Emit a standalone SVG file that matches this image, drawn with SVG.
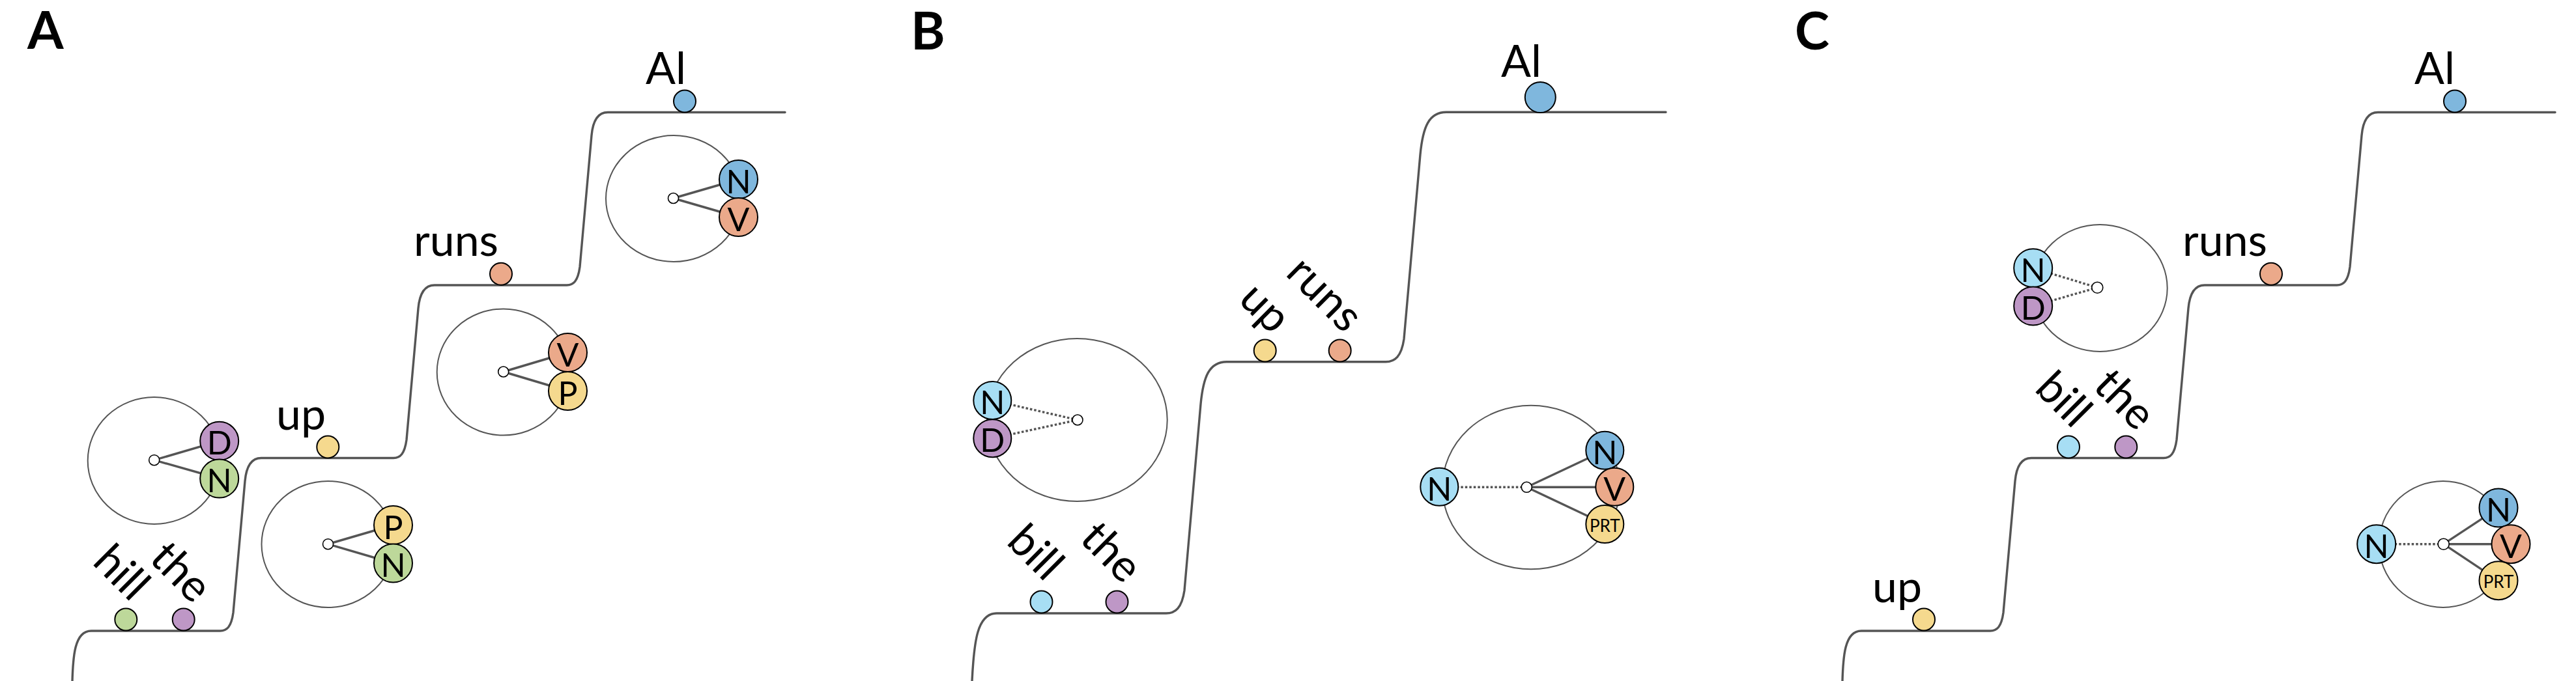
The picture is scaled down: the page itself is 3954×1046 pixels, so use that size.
<svg xmlns="http://www.w3.org/2000/svg" width="3954" height="1046" viewBox="0 0 3954 1046">
<style>
.bg{fill:#fff}
.stair{fill:none;stroke:#555;stroke-width:3.4;stroke-linecap:round;stroke-linejoin:round}
.ring{fill:none;stroke:#555;stroke-width:2}
.hub{fill:#fff;stroke:#000;stroke-width:1.6}
.sol{stroke:#555;stroke-width:3.4;stroke-linecap:round}
.dot{stroke:#555;stroke-width:3.4;stroke-dasharray:3.5 3}
.nd{stroke:#000;stroke-width:2}
.g{fill:#BDD89A}.pu{fill:#BE97C6}.y{fill:#F5D98E}.o{fill:#EBA98A}.b{fill:#7FB7DD}.lb{fill:#A7DEF4}
.w{font-family:Lato,'Open Sans',sans-serif;font-size:68px;fill:#000}
.L{font-family:Lato,'Open Sans',sans-serif;font-size:50px;fill:#000;text-anchor:middle}
.s{font-family:Lato,'Open Sans',sans-serif;font-size:26px;fill:#000;text-anchor:middle}
.pl{font-family:Lato,'Open Sans',sans-serif;font-size:80px;font-weight:bold;fill:#000}
</style>
<rect class="bg" x="0" y="0" width="3954" height="1046"/>

<!-- panel letters -->
<text class="pl" x="42" y="75">A</text>
<text class="pl" x="1398" y="76">B</text>
<text class="pl" x="2755" y="76">C</text>

<!-- staircases -->
<g id="stairs">
<path id="stairA" class="stair" d="M 111,1046 C 112,1010 114,969 140,969 H 338 C 348,969 355,963 358,941 L 376,739 C 378,717 386,703.5 401,703.5 H 604 C 614,703.5 621,697.5 624,675.5 L 642,473.5 C 644,451.5 652,438 667,438 H 870 C 880,438 887,432 890,410 L 908,208 C 910,186 918,172.5 933,172.5 H 1205"/>
<path id="stairB" class="stair" d="M 1492,1046 C 1495,985 1500,942 1530,942 H 1790 C 1804,942 1814,934 1818,907 L 1843,620.7 C 1847,578.7 1856,555.7 1883,555.7 H 2127 C 2141,555.7 2151,547.7 2155,520.7 L 2180,237.3 C 2184,195.3 2193,172.3 2220,172.3 H 2557"/>
<path id="stairC" class="stair" transform="translate(2717,0)" d="M 111,1046 C 112,1010 114,969 140,969 H 338 C 348,969 355,963 358,941 L 376,739 C 378,717 386,703.5 401,703.5 H 604 C 614,703.5 621,697.5 624,675.5 L 642,473.5 C 644,451.5 652,438 667,438 H 870 C 880,438 887,432 890,410 L 908,208 C 910,186 918,172.5 933,172.5 H 1205"/>
</g>

<!-- rings -->
<g id="rings">
<ellipse class="ring" cx="236.7" cy="707.5" rx="102" ry="97.5"/>
<ellipse class="ring" cx="503.5" cy="836" rx="102" ry="97"/>
<ellipse class="ring" cx="772.7" cy="571.5" rx="102" ry="97"/>
<ellipse class="ring" cx="1034" cy="305" rx="104" ry="97"/>
<ellipse class="ring" cx="1653.3" cy="645" rx="138.4" ry="125"/>
<ellipse class="ring" cx="2350" cy="748.5" rx="136" ry="125.8"/>
<ellipse class="ring" cx="3223.3" cy="442.5" rx="103.4" ry="97.5"/>
<ellipse class="ring" cx="3750" cy="836" rx="98.3" ry="97"/>
</g>

<!-- connectors -->
<g id="connectors">
<line class="sol" x1="236.7" y1="706.7" x2="336.7" y2="677.3"/>
<line class="sol" x1="236.7" y1="706.7" x2="336.7" y2="735"/>
<line class="sol" x1="503.5" y1="835.7" x2="603.5" y2="806.5"/>
<line class="sol" x1="503.5" y1="835.7" x2="603.5" y2="865"/>
<line class="sol" x1="772.7" y1="571" x2="871.5" y2="541.5"/>
<line class="sol" x1="772.7" y1="571" x2="871.5" y2="600.5"/>
<line class="sol" x1="1033.5" y1="304.5" x2="1133.5" y2="275.5"/>
<line class="sol" x1="1033.5" y1="304.5" x2="1133.5" y2="333.5"/>
<line class="dot" x1="1654" y1="645" x2="1523.3" y2="615"/>
<line class="dot" x1="1654" y1="645" x2="1523.3" y2="673.3"/>
<line class="dot" x1="2343.3" y1="748.3" x2="2209.3" y2="748.3"/>
<line class="sol" x1="2343.3" y1="748.3" x2="2463.3" y2="691.7"/>
<line class="sol" x1="2343.3" y1="748.3" x2="2478.3" y2="748.3"/>
<line class="sol" x1="2343.3" y1="748.3" x2="2463.3" y2="805"/>
<line class="dot" x1="3219.3" y1="441.7" x2="3120.7" y2="411.7"/>
<line class="dot" x1="3219.3" y1="441.7" x2="3120.7" y2="470"/>
<line class="dot" x1="3750.7" y1="835.7" x2="3647.7" y2="835.7"/>
<line class="sol" x1="3750.7" y1="835.7" x2="3835" y2="780"/>
<line class="sol" x1="3750.7" y1="835.7" x2="3854" y2="835.7"/>
<line class="sol" x1="3750.7" y1="835.7" x2="3835" y2="891.7"/>
</g>

<!-- hubs -->
<g id="hubs">
<circle class="hub" cx="236.7" cy="706.7" r="8"/>
<circle class="hub" cx="503.5" cy="835.7" r="8"/>
<circle class="hub" cx="772.7" cy="571" r="8"/>
<circle class="hub" cx="1033.5" cy="304.5" r="8"/>
<circle class="hub" cx="1654" cy="645" r="8"/>
<circle class="hub" cx="2343.3" cy="748.3" r="8"/>
<circle class="hub" cx="3219.3" cy="441.7" r="8.5"/>
<circle class="hub" cx="3750.7" cy="835.7" r="8.5"/>
</g>

<!-- category nodes -->
<g id="nodeA1D"><circle class="nd pu" cx="336.7" cy="677.3" r="29.5"/><text class="L" x="336.7" y="698.3">D</text></g>
<g id="nodeA1N"><circle class="nd g" cx="336.7" cy="735" r="29.5"/><text class="L" x="336.7" y="756">N</text></g>
<g id="nodeA2P"><circle class="nd y" cx="603.5" cy="806.5" r="29.5"/><text class="L" x="603.5" y="827.5">P</text></g>
<g id="nodeA2N"><circle class="nd g" cx="603.5" cy="865" r="29.5"/><text class="L" x="603.5" y="886">N</text></g>
<g id="nodeA3V"><circle class="nd o" cx="871.5" cy="541.5" r="29.5"/><text class="L" x="871.5" y="562.5">V</text></g>
<g id="nodeA3P"><circle class="nd y" cx="871.5" cy="600.5" r="29.5"/><text class="L" x="871.5" y="621.5">P</text></g>
<g id="nodeA4N"><circle class="nd b" cx="1133.5" cy="275.5" r="29.5"/><text class="L" x="1133.5" y="296.5">N</text></g>
<g id="nodeA4V"><circle class="nd o" cx="1133.5" cy="333.5" r="29.5"/><text class="L" x="1133.5" y="354.5">V</text></g>

<g id="nodeB1N"><circle class="nd lb" cx="1523.3" cy="615" r="29"/><text class="L" x="1523.3" y="636">N</text></g>
<g id="nodeB1D"><circle class="nd pu" cx="1523.3" cy="673.3" r="29"/><text class="L" x="1523.3" y="694.3">D</text></g>
<g id="nodeB2Nl"><circle class="nd lb" cx="2209.3" cy="747.7" r="29"/><text class="L" x="2209.3" y="768.7">N</text></g>
<g id="nodeB2N"><circle class="nd b" cx="2463.3" cy="691.7" r="29"/><text class="L" x="2463.3" y="712.7">N</text></g>
<g id="nodeB2V"><circle class="nd o" cx="2478.3" cy="747.7" r="29"/><text class="L" x="2478.3" y="768.7">V</text></g>
<g id="nodeB2PRT"><circle class="nd y" cx="2463.3" cy="805" r="29"/><text class="s" x="2463.3" y="816.7">PRT</text></g>

<g id="nodeC1N"><circle class="nd lb" cx="3120.7" cy="411.7" r="29.5"/><text class="L" x="3120.7" y="432.7">N</text></g>
<g id="nodeC1D"><circle class="nd pu" cx="3120.7" cy="470" r="29.5"/><text class="L" x="3120.7" y="491">D</text></g>
<g id="nodeC2Nl"><circle class="nd lb" cx="3647.7" cy="835.7" r="29.5"/><text class="L" x="3647.7" y="856.7">N</text></g>
<g id="nodeC2N"><circle class="nd b" cx="3835" cy="780" r="29.5"/><text class="L" x="3835" y="801">N</text></g>
<g id="nodeC2V"><circle class="nd o" cx="3854" cy="835.7" r="29.5"/><text class="L" x="3854" y="856.7">V</text></g>
<g id="nodeC2PRT"><circle class="nd y" cx="3835" cy="891.7" r="29.5"/><text class="s" x="3835" y="903.4">PRT</text></g>

<!-- word tokens on stairs -->
<g id="wordA-hill"><circle class="nd g" cx="193.3" cy="951.5" r="17"/><text class="w" transform="translate(140,865) rotate(45)">hill</text></g>
<g id="wordA-the"><circle class="nd pu" cx="281.7" cy="951.5" r="17"/><text class="w" transform="translate(227,860) rotate(45)">the</text></g>
<g id="wordA-up"><circle class="nd y" cx="503.3" cy="686.5" r="17"/><text class="w" x="424" y="660">up</text></g>
<g id="wordA-runs"><circle class="nd o" cx="769" cy="420.7" r="17"/><text class="w" x="635" y="393.3">runs</text></g>
<g id="wordA-Al"><circle class="nd b" cx="1051" cy="155.5" r="17"/><text class="w" x="991" y="129.3">Al</text></g>

<g id="wordB-bill"><circle class="nd lb" cx="1598.5" cy="924.5" r="17"/><text class="w" transform="translate(1543,834) rotate(45)">bill</text></g>
<g id="wordB-the"><circle class="nd pu" cx="1714.5" cy="924.5" r="17"/><text class="w" transform="translate(1655,829.5) rotate(45)">the</text></g>
<g id="wordB-up"><circle class="nd y" cx="1941.7" cy="538.5" r="17"/><text class="w" transform="translate(1899,462) rotate(45)">up</text></g>
<g id="wordB-runs"><circle class="nd o" cx="2056.7" cy="538.5" r="17"/><text class="w" transform="translate(1971.5,421.5) rotate(45)">runs</text></g>
<g id="wordB-Al"><circle class="nd b" cx="2364.3" cy="149.5" r="23.5"/><text class="w" x="2304" y="118.3">Al</text></g>

<g id="wordC-up"><circle class="nd y" cx="2953" cy="951.5" r="17"/><text class="w" x="2874" y="925">up</text></g>
<g id="wordC-bill"><circle class="nd lb" cx="3175" cy="686.5" r="17"/><text class="w" transform="translate(3121,599) rotate(45)">bill</text></g>
<g id="wordC-the"><circle class="nd pu" cx="3263.3" cy="686.5" r="17"/><text class="w" transform="translate(3210.5,595) rotate(45)">the</text></g>
<g id="wordC-runs"><circle class="nd o" cx="3486" cy="420.7" r="17"/><text class="w" x="3350" y="393.3">runs</text></g>
<g id="wordC-Al"><circle class="nd b" cx="3768" cy="155.5" r="17"/><text class="w" x="3706" y="129.3">Al</text></g>
</svg>
